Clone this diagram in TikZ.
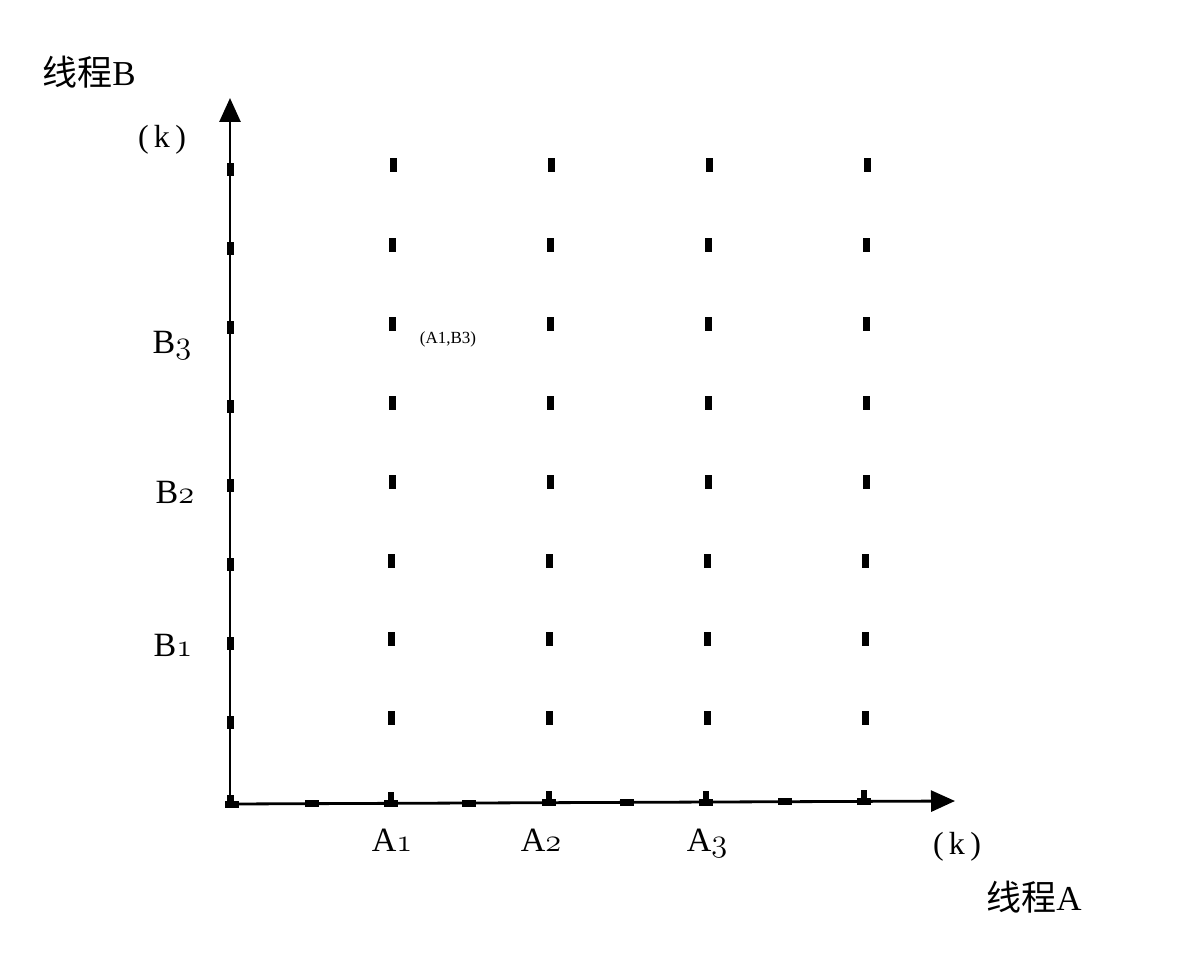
\documentclass[tikz,border=0pt]{standalone}
\usepackage{fontspec}
\usepackage{graphicx}
\newfontfamily\cjk{Noto Sans CJK SC}
\setmainfont{Liberation Serif}
\usetikzlibrary{arrows.meta}
\newcommand\osnum[1]{\scalebox{1.3}{\usefont{OML}{cmm}{m}{it}#1}}
\tikzset{
  axis/.style={line width=2.8pt,-{Triangle[length=24pt,width=21pt]}},
  vtick/.style={fill=black,inner sep=0pt,minimum width=7pt,minimum height=13pt},
  htick/.style={fill=black,inner sep=0pt,minimum width=14pt,minimum height=7pt},
  stub/.style={fill=black,inner sep=0pt,minimum width=6pt,minimum height=9pt},
  gtick/.style={fill=black,inner sep=0pt,minimum width=7pt,minimum height=14pt},
  lab/.style={inner sep=0pt,font=\fontsize{34}{40}\selectfont},
  klab/.style={inner sep=0pt,font=\fontsize{32}{36}\selectfont},
}
\begin{document}
\begin{tikzpicture}[x=1pt,y=-1pt]
\useasboundingbox[fill=white] (0,0) rectangle (1201,960);
\coordinate (O) at (230,804);
\coordinate (ytip) at (230,98);
\coordinate (xtip) at (955,801);
\draw[axis] (O) -- (ytip);
\draw[axis] (O) -- (xtip);
% ticks on vertical axis
\foreach \y [count=\i] in {170,248,327,406,485,564,643,722,801}
  \node[vtick] (vt\i) at (230,\y) {};
% ticks on horizontal axis
\foreach \x [count=\i] in {232,312,391,469,549,627,706,785,864}
  \node[htick] (ht\i) at (\x,{804-3*(\x-230)/723}) {};
\foreach \x [count=\i] in {391,549,706,864}
  \node[stub] (st\i) at (\x,{804-3*(\x-230)/723-7}) {};
% grid marks
\foreach \c/\x in {1/393,2/551,3/709,4/867}
  \foreach \r/\y in {1/165,2/245,3/324,4/403,5/482,6/561,7/639,8/718}
    \node[gtick] (g\c\r) at ({\x-1.5*(\y-165)/553},\y) {};
% labels
\node[lab,font=\fontsize{35}{40}\selectfont] (tb) at (89,72) {{\cjk 线程}B};
\node[klab] (kb) at (162,140) {(\,k\,)};
\node[lab,anchor=base] (b3) at (172,353) {B\osnum{3}};
\node[lab,anchor=base] (b2) at (175,503) {B\osnum{2}};
\node[lab,anchor=base] (b1) at (173,656) {B\osnum{1}};
\node[lab,anchor=base] (a1) at (392,851) {A\osnum{1}};
\node[lab,anchor=base] (a2) at (541,851) {A\osnum{2}};
\node[lab,anchor=base] (a3) at (707,851) {A\osnum{3}};
\node[klab] (ka) at (957,847) {(\,k\,)};
\node[lab,font=\fontsize{35}{40}\selectfont] (ta) at (1034,897) {{\cjk 线程}A};
\node[inner sep=0pt,font=\fontsize{17}{18}\selectfont] (p) at (448,339) {(A1,B3)};
\end{tikzpicture}
\end{document}
